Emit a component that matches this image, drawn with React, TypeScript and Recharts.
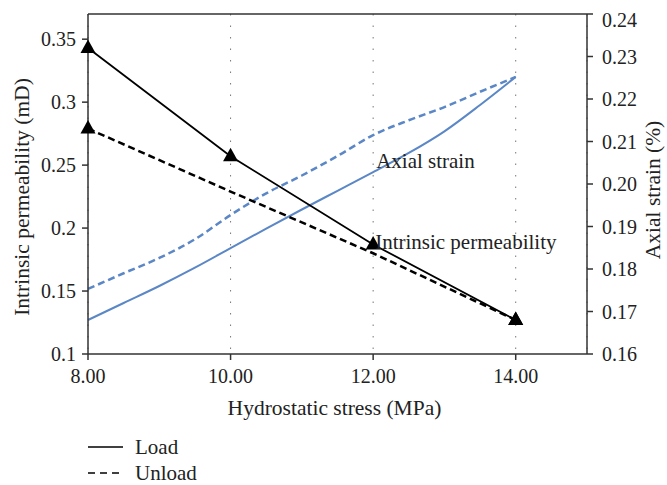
import {
  LineChart,
  Line,
  XAxis,
  YAxis,
  CartesianGrid,
  ReferenceLine,
  ReferenceDot,
} from "recharts";

// Hydrostatic stress (MPa)
const stressPoints = [8, 10, 12, 14];
const strainStress = [8, 8.5, 9, 9.5, 10, 10.5, 11, 11.5, 12, 12.5, 13, 13.5, 14];

// Intrinsic permeability (mD)
const permLoad = [0.343, 0.257, 0.187, 0.127];
const permUnload = [0.279, 0.229, 0.18, 0.127];

// Axial strain (%)
const strainLoad = [0.168, 0.172, 0.176, 0.1803, 0.1849, 0.1895, 0.194, 0.1984, 0.2028, 0.2073, 0.2124, 0.2186, 0.2252];
const strainUnload = [0.1753, 0.179, 0.1826, 0.187, 0.1927, 0.1978, 0.202, 0.2066, 0.2115, 0.215, 0.2181, 0.2217, 0.2252];

const xTicks = [8, 10, 12, 14];
const leftTicks = [0.1, 0.15, 0.2, 0.25, 0.3, 0.35];
const rightTicks = [0.16, 0.17, 0.18, 0.19, 0.2, 0.21, 0.22, 0.23, 0.24];

const BLUE = "#5b87c6";
const AXIS = "#333";
const INK = "#222";
const FONT = "'Liberation Serif', 'Times New Roman', serif";
const tickStyle = { fontSize: 20, fill: INK, fontFamily: FONT };
const labelStyle = { fontSize: 21.5, fill: INK, fontFamily: FONT };

const permLoadData = stressPoints.map((x, i) => ({ x, y: permLoad[i] }));
const permUnloadData = stressPoints.map((x, i) => ({ x, y: permUnload[i] }));
const strainLoadData = strainStress.map((x, i) => ({ x, y: strainLoad[i] }));
const strainUnloadData = strainStress.map((x, i) => ({ x, y: strainUnload[i] }));

// filled triangle marker
const Triangle = (props: any) => {
  const { cx, cy, index } = props;
  if (cx == null || cy == null) return <g key={index} />;
  return (
    <path
      key={index}
      d={`M${cx},${cy - 8.5} L${cx + 7.5},${cy + 5} L${cx - 7.5},${cy + 5} Z`}
      fill="#000"
    />
  );
};

// unload markers only at the ends
const EndTriangle = (props: any) => {
  const { index } = props;
  if (index !== 0 && index !== permUnload.length - 1) return <g key={index} />;
  return <Triangle {...props} />;
};

const XLabel = (props: any) => {
  const vb = props.viewBox || {};
  return (
    <text x={vb.x + vb.width / 2 - 3} y={vb.y + 61} textAnchor="middle" style={labelStyle}>
      Hydrostatic stress (MPa)
    </text>
  );
};

const LeftLabel = (props: any) => {
  const vb = props.viewBox || {};
  const x = vb.x + 21;
  const y = vb.y + vb.height / 2 + 13;
  return (
    <text x={x} y={y} textAnchor="middle" transform={`rotate(-90, ${x}, ${y})`} style={labelStyle}>
      Intrinsic permeability (mD)
    </text>
  );
};

const RightLabel = (props: any) => {
  const vb = props.viewBox || {};
  const x = vb.x + 73;
  const y = vb.y + vb.height / 2 + 6;
  return (
    <text x={x} y={y} textAnchor="middle" transform={`rotate(-90, ${x}, ${y})`} style={labelStyle}>
      Axial strain (%)
    </text>
  );
};

export default function App() {
  return (
    <div style={{ position: "relative", width: 667, height: 485, fontFamily: FONT, overflow: "hidden" }}>
      <style>{`body{margin:0}`}</style>
      <div style={{ position: "absolute", left: 8, top: 8 }}>
        <LineChart
          width={659}
          height={469}
          margin={{ top: 6, right: 0, left: 0, bottom: 57 }}
        >
          <CartesianGrid
            yAxisId="left"
            horizontal={false}
            stroke="#777"
            strokeDasharray="1.5 10"
          />
          <XAxis
            dataKey="x"
            type="number"
            domain={[8, 15]}
            ticks={xTicks}
            allowDuplicatedCategory={false}
            tickFormatter={(v) => v.toFixed(2)}
            tick={tickStyle}
            tickSize={6}
            tickMargin={9}
            height={66}
            stroke={AXIS}
            strokeWidth={1.5}
            label={XLabel}
          />
          <YAxis
            yAxisId="left"
            type="number"
            domain={[0.1, 0.37]}
            ticks={leftTicks}
            tickFormatter={(v) => String(Number(v.toFixed(2)))}
            tick={tickStyle}
            tickSize={6}
            tickMargin={6}
            width={80}
            stroke={AXIS}
            strokeWidth={1.5}
            label={LeftLabel}
          />
          <YAxis
            yAxisId="right"
            orientation="right"
            type="number"
            domain={[0.16, 0.24]}
            ticks={rightTicks}
            tickFormatter={(v) => v.toFixed(2)}
            tick={tickStyle}
            tickSize={6}
            tickMargin={9}
            width={80}
            stroke={AXIS}
            strokeWidth={1.5}
            label={RightLabel}
          />
          <ReferenceLine yAxisId="left" y={0.37} stroke={AXIS} strokeWidth={1.5} />

          <Line
            yAxisId="right"
            data={strainLoadData}
            dataKey="y"
            type="monotone"
            stroke={BLUE}
            strokeWidth={2}
            dot={false}
            isAnimationActive={false}
          />
          <Line
            yAxisId="right"
            data={strainUnloadData}
            dataKey="y"
            type="monotone"
            stroke={BLUE}
            strokeWidth={2.5}
            strokeDasharray="7 4"
            dot={false}
            isAnimationActive={false}
          />
          <Line
            yAxisId="left"
            data={permUnloadData}
            dataKey="y"
            type="linear"
            stroke="#000"
            strokeWidth={2.5}
            strokeDasharray="7 4"
            dot={EndTriangle}
            isAnimationActive={false}
          />
          <Line
            yAxisId="left"
            data={permLoadData}
            dataKey="y"
            type="linear"
            stroke="#000"
            strokeWidth={1.8}
            dot={Triangle}
            isAnimationActive={false}
          />

          <ReferenceDot
            yAxisId="right"
            x={12}
            y={0.2055}
            r={0}
            stroke="none"
            label={{
              value: "Axial strain",
              position: "right",
              offset: 3,
              style: { fontSize: 21, fill: INK, fontFamily: FONT },
            }}
          />
          <ReferenceDot
            yAxisId="left"
            x={12}
            y={0.1894}
            r={0}
            stroke="none"
            label={{
              value: "Intrinsic permeability",
              position: "right",
              offset: 2,
              style: { fontSize: 21, fill: INK, fontFamily: FONT },
            }}
          />
        </LineChart>
      </div>

      <div style={{ position: "absolute", left: 86, top: 434, fontSize: 21, color: INK, lineHeight: "26px" }}>
        <div style={{ display: "flex", alignItems: "center" }}>
          <svg width={38} height={10}>
            <line x1={2} y1={5} x2={37} y2={5} stroke="#000" strokeWidth={1.5} />
          </svg>
          <span style={{ marginLeft: 11 }}>Load</span>
        </div>
        <div style={{ display: "flex", alignItems: "center" }}>
          <svg width={38} height={10}>
            <line x1={2} y1={5} x2={37} y2={5} stroke="#000" strokeWidth={1.5} strokeDasharray="7 5" />
          </svg>
          <span style={{ marginLeft: 11 }}>Unload</span>
        </div>
      </div>
    </div>
  );
}
